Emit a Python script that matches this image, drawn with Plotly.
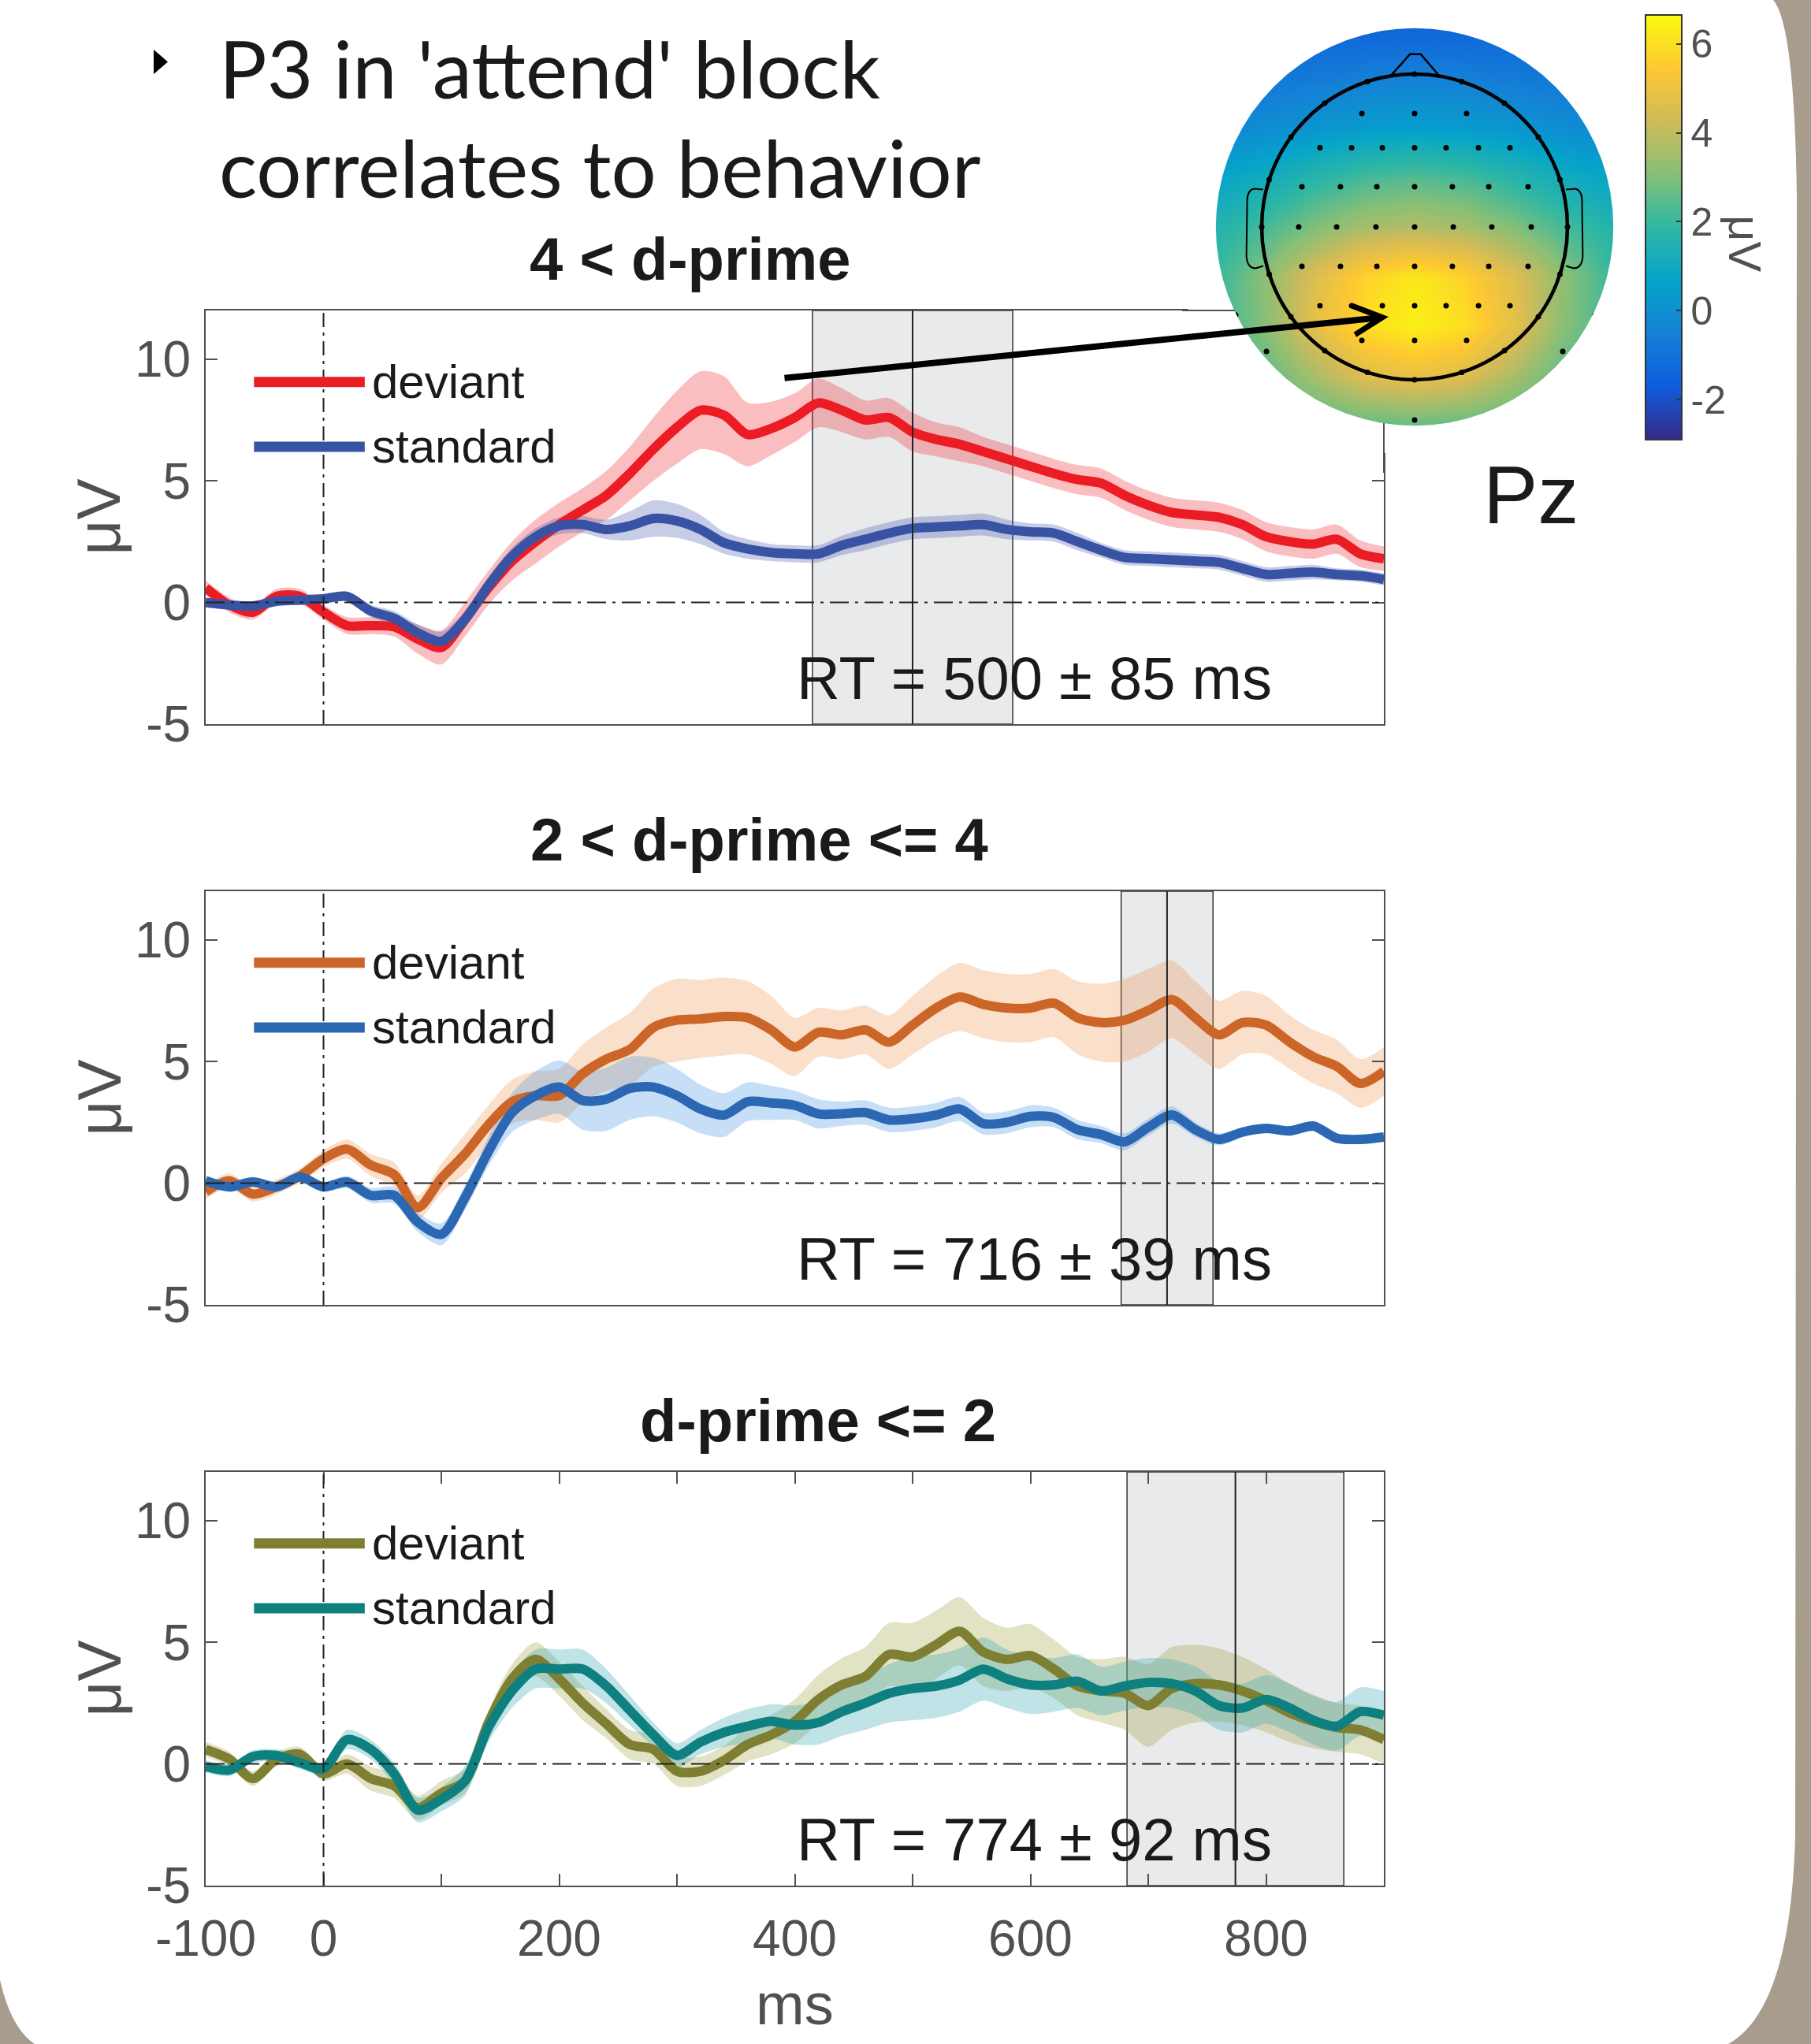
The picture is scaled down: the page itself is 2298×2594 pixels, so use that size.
import plotly.graph_objects as go
import math

W, H = 2298, 2594

# ---------------- data ----------------
time_ms = list(range(-100, 901, 20))

p1_deviant = [0.6, -0.1, -0.4, 0.25, 0.25, -0.4, -0.95, -0.95, -1.0, -1.5, -1.85, -0.7, 0.6, 1.7, 2.5, 3.2, 3.8, 4.4, 5.3, 6.3,
              7.2, 7.9, 7.7, 6.9, 7.15, 7.6, 8.2, 7.9, 7.5, 7.6, 7.0, 6.7, 6.5, 6.2, 5.9, 5.6, 5.3, 5.05, 4.9, 4.4,
              4.0, 3.7, 3.6, 3.5, 3.2, 2.7, 2.5, 2.4, 2.6, 2.0, 1.8]
p1_standard = [0.0, -0.1, -0.15, 0.05, 0.1, 0.15, 0.25, -0.35, -0.65, -1.25, -1.6, -0.7, 0.7, 1.9, 2.7, 3.15, 3.2, 3.0, 3.15, 3.45,
               3.35, 3.0, 2.45, 2.2, 2.05, 2.0, 2.0, 2.35, 2.6, 2.85, 3.05, 3.1, 3.15, 3.2, 3.0, 2.9, 2.85, 2.5, 2.15, 1.85,
               1.8, 1.75, 1.7, 1.65, 1.4, 1.15, 1.2, 1.25, 1.15, 1.1, 0.95]
p1_deviant_sem = [0.3, 0.3, 0.3, 0.3, 0.3, 0.3, 0.35, 0.35, 0.4, 0.6, 0.7, 0.7, 0.7, 0.8, 0.9, 0.9, 0.9, 1.0, 1.1, 1.3,
                  1.5, 1.6, 1.6, 1.3, 1.1, 1.0, 1.0, 0.9, 0.8, 0.8, 0.8, 0.7, 0.7, 0.6, 0.6, 0.6, 0.6, 0.6, 0.6, 0.6,
                  0.6, 0.6, 0.6, 0.6, 0.6, 0.6, 0.6, 0.6, 0.6, 0.55, 0.5]
p1_standard_sem = [0.2, 0.2, 0.2, 0.2, 0.2, 0.2, 0.2, 0.25, 0.3, 0.35, 0.4, 0.35, 0.35, 0.35, 0.35, 0.35, 0.35, 0.4, 0.6, 0.75,
                   0.7, 0.6, 0.45, 0.4, 0.35, 0.35, 0.35, 0.4, 0.45, 0.45, 0.45, 0.45, 0.45, 0.45, 0.4, 0.35, 0.35, 0.35, 0.3, 0.3,
                   0.3, 0.3, 0.3, 0.3, 0.3, 0.3, 0.3, 0.3, 0.25, 0.25, 0.25]

p2_deviant = [-0.35, 0.1, -0.45, -0.15, 0.3, 1.0, 1.4, 0.75, 0.35, -1.0, 0.2, 1.2, 2.4, 3.35, 3.6, 3.6, 4.5, 5.1, 5.5, 6.4,
              6.7, 6.75, 6.85, 6.8, 6.3, 5.6, 6.2, 6.1, 6.3, 5.8, 6.5, 7.2, 7.65, 7.35, 7.2, 7.2, 7.4, 6.8, 6.6, 6.7,
              7.1, 7.55, 6.8, 6.1, 6.6, 6.5, 5.8, 5.2, 4.8, 4.1, 4.6]
p2_standard = [0.1, -0.15, 0.05, -0.15, 0.25, -0.15, 0.05, -0.5, -0.5, -1.6, -2.1, -0.6, 1.3, 2.9, 3.6, 3.95, 3.4, 3.45, 3.9, 3.95,
               3.6, 3.05, 2.8, 3.35, 3.3, 3.2, 2.85, 2.85, 2.9, 2.6, 2.65, 2.8, 3.05, 2.45, 2.5, 2.75, 2.7, 2.2, 2.0, 1.7,
               2.3, 2.8, 2.2, 1.8, 2.1, 2.25, 2.15, 2.35, 1.85, 1.8, 1.9]
p2_deviant_sem = [0.3, 0.3, 0.3, 0.3, 0.3, 0.35, 0.4, 0.45, 0.5, 0.5, 0.6, 0.8, 0.8, 0.9, 1.0, 1.1, 1.2, 1.3, 1.5, 1.6,
                  1.7, 1.6, 1.6, 1.5, 1.4, 1.2, 1.0, 1.0, 1.0, 1.1, 1.2, 1.3, 1.4, 1.4, 1.4, 1.4, 1.4, 1.5, 1.6, 1.7,
                  1.7, 1.6, 1.5, 1.4, 1.3, 1.2, 1.1, 1.1, 1.1, 1.0, 1.0]
p2_standard_sem = [0.2, 0.2, 0.2, 0.2, 0.2, 0.2, 0.25, 0.3, 0.35, 0.4, 0.45, 0.5, 0.6, 0.8, 1.0, 1.1, 1.2, 1.3, 1.3, 1.2,
                   1.1, 1.0, 0.9, 0.8, 0.7, 0.6, 0.6, 0.5, 0.5, 0.5, 0.5, 0.5, 0.5, 0.45, 0.45, 0.45, 0.4, 0.4, 0.35, 0.35,
                   0.35, 0.35, 0.3, 0.25, 0.2, 0.2, 0.2, 0.2, 0.2, 0.2, 0.2]

p3_deviant = [0.6, 0.2, -0.6, 0.2, 0.4, -0.4, 0.0, -0.6, -0.9, -1.8, -1.2, -0.7, 1.7, 3.5, 4.3, 3.5, 2.5, 1.65, 0.8, 0.6,
              -0.3, -0.3, 0.15, 0.8, 1.2, 1.75, 2.65, 3.25, 3.6, 4.5, 4.4, 4.9, 5.45, 4.6, 4.3, 4.45, 3.9, 3.2, 3.0, 2.9,
              2.4, 3.1, 3.3, 3.25, 3.0, 2.6, 2.1, 1.75, 1.5, 1.4, 1.0]
p3_standard = [-0.1, -0.25, 0.3, 0.35, 0.05, -0.2, 1.0, 0.6, -0.4, -1.9, -1.45, -0.7, 1.5, 3.0, 3.9, 3.9, 3.9, 3.2, 2.2, 1.2,
               0.35, 0.9, 1.3, 1.55, 1.75, 1.6, 1.7, 2.15, 2.5, 2.9, 3.1, 3.2, 3.45, 3.9, 3.5, 3.25, 3.25, 3.4, 3.0, 3.2,
               3.35, 3.3, 3.0, 2.4, 2.3, 2.65, 2.3, 1.8, 1.55, 2.15, 2.0]
p3_deviant_sem = [0.3, 0.3, 0.3, 0.3, 0.3, 0.3, 0.4, 0.5, 0.5, 0.5, 0.5, 0.5, 0.5, 0.6, 0.7, 0.7, 0.7, 0.6, 0.6, 0.6,
                  0.6, 0.6, 0.6, 0.7, 0.8, 0.9, 1.0, 1.1, 1.2, 1.3, 1.4, 1.4, 1.4, 1.4, 1.3, 1.3, 1.2, 1.2, 1.3, 1.5,
                  1.7, 1.7, 1.6, 1.5, 1.4, 1.3, 1.2, 1.1, 1.0, 1.0, 1.0]
p3_standard_sem = [0.25, 0.25, 0.25, 0.25, 0.25, 0.25, 0.4, 0.4, 0.45, 0.5, 0.5, 0.6, 0.6, 0.7, 0.8, 0.8, 0.8, 0.7, 0.6, 0.5,
                   0.5, 0.5, 0.6, 0.7, 0.7, 0.8, 0.9, 1.0, 1.1, 1.2, 1.3, 1.3, 1.3, 1.3, 1.2, 1.2, 1.1, 1.1, 1.0, 1.0,
                   1.0, 1.0, 1.0, 1.0, 1.0, 1.0, 1.0, 1.0, 1.0, 1.0, 1.0]

panel_titles = ["4 &lt; d-prime", "2 &lt; d-prime &lt;= 4", "d-prime &lt;= 2"]
rt_mean_ms = [500, 716, 774]
rt_sd_ms = [85, 39, 92]
legend_labels = ["deviant", "standard"]

y_tick_vals = [-5, 0, 5, 10]
y_tick_text = ["-5", "0", "5", "10"]
x_tick_vals = [-100, 0, 100, 200, 300, 400, 500, 600, 700, 800]
x_tick_text = ["-100", "0", "", "200", "", "400", "", "600", "", "800"]

# topography (Pz P3 window), coarse grid in head units, rows bottom -> top
topo_x = [-1.3, -0.975, -0.65, -0.325, 0.0, 0.325, 0.65, 0.975, 1.3]
topo_y = [-1.3, -0.975, -0.65, -0.325, 0.0, 0.325, 0.65, 0.975, 1.3]
topo_z = [
    [2.0, 2.1, 2.3, 2.5, 2.6, 2.5, 2.3, 2.1, 2.0],
    [2.0, 2.5, 3.6, 4.6, 4.9, 4.6, 3.6, 2.5, 2.0],
    [2.1, 3.1, 4.8, 6.0, 6.4, 6.0, 4.8, 3.1, 2.1],
    [2.0, 3.2, 4.6, 5.7, 6.2, 5.7, 4.6, 3.2, 2.0],
    [1.6, 2.2, 3.0, 3.6, 3.8, 3.6, 3.0, 2.2, 1.6],
    [0.7, 1.1, 1.7, 2.2, 2.4, 2.2, 1.7, 1.1, 0.7],
    [-0.3, -0.1, 0.2, 0.4, 0.5, 0.4, 0.2, -0.1, -0.3],
    [-1.0, -0.85, -0.7, -0.55, -0.5, -0.55, -0.7, -0.85, -1.0],
    [-1.4, -1.4, -1.4, -1.4, -1.4, -1.4, -1.4, -1.4, -1.4],
]
colorbar_ticks = [-2, 0, 2, 4, 6]
colorbar_text = ["-2", "0", "2", "4", "6"]
topo_cmin, topo_cmax = -2.9, 6.65

elec_x = [-0.345, 0.0, 0.34,
          -0.619, -0.412, -0.211, 0.0, 0.206, 0.418, 0.624,
          -0.737, -0.485, -0.247, 0.0, 0.247, 0.485, 0.742,
          -0.758, -0.51, -0.253, 0.0, 0.253, 0.505, 0.763,
          -0.737, -0.485, -0.247, 0.0, 0.247, 0.485, 0.742,
          -0.619, -0.412, -0.211, 0.0, 0.206, 0.418, 0.624,
          -0.345, 0.0, 0.34,
          -1.17, 1.18, -0.969, 0.969, 0.0]
elec_y = [0.742, 0.742, 0.742,
          0.518, 0.518, 0.518, 0.518, 0.518, 0.518, 0.518,
          0.263, 0.263, 0.263, 0.263, 0.263, 0.263, 0.263,
          0.0, 0.0, 0.0, 0.0, 0.0, 0.0, 0.0,
          -0.258, -0.258, -0.258, -0.258, -0.258, -0.258, -0.258,
          -0.515, -0.515, -0.515, -0.515, -0.515, -0.515, -0.515,
          -0.742, -0.742, -0.742,
          -0.577, -0.577, -0.814, -0.814, -1.263]
rim_angles_deg = [0, 18, 36, 54, 72, 90, 108, 126, 144, 162, 180, 198, 216, 234, 252, 270, 288, 306, 324, 342]

for arr in [p1_deviant, p1_standard, p1_deviant_sem, p1_standard_sem,
            p2_deviant, p2_standard, p2_deviant_sem, p2_standard_sem,
            p3_deviant, p3_standard, p3_deviant_sem, p3_standard_sem]:
    assert len(arr) == len(time_ms), len(arr)

# ---------------- styling ----------------
def PX(x):
    return x / W

def PY(y):
    return 1 - y / H

FONT = "Liberation Sans, Arial, Helvetica, sans-serif"
AXC = "#505050"
X_LEFT, X_RIGHT = 261, 1756
PANEL_TOP = [394, 1131, 1868]
PANEL_BOT = [919, 1656, 2393]
TITLE_X = [876, 963, 1038]

panel_data = [
    (p1_deviant, p1_deviant_sem, p1_standard, p1_standard_sem),
    (p2_deviant, p2_deviant_sem, p2_standard, p2_standard_sem),
    (p3_deviant, p3_deviant_sem, p3_standard, p3_standard_sem),
]
line_colors = [("#ec1c24", "#3953a4"), ("#cc6628", "#2b67b3"), ("#7f7f33", "#0f8080")]
band_colors = [("rgba(238,40,50,0.30)", "rgba(70,85,175,0.30)"),
               ("rgba(240,150,80,0.30)", "rgba(70,150,225,0.30)"),
               ("rgba(160,160,60,0.30)", "rgba(60,170,180,0.33)")]

fig = go.Figure()
layout = dict(width=W, height=H, margin=dict(l=0, r=0, t=0, b=0, pad=0, autoexpand=False),
              paper_bgcolor="white", plot_bgcolor="rgba(0,0,0,0)", showlegend=False)
shapes = []
annotations = []

def path_px(cmds):
    out = []
    for c in cmds:
        if isinstance(c, str):
            out.append(c)
        else:
            out.append("%.5f,%.5f" % (PX(c[0]), PY(c[1])))
    return " ".join(out)

# background taupe frame
shapes.append(dict(type="path", xref="paper", yref="paper", layer="below", line=dict(width=0),
                   fillcolor="#a89c8d",
                   path=path_px(["M", (2250, 0), "Q", (2277, 30), (2280, 250), "L", (2278, 2330),
                                 "Q", (2272, 2550), (2193, 2594), "L", (2298, 2594), "L", (2298, 0), "Z"])))
shapes.append(dict(type="path", xref="paper", yref="paper", layer="below", line=dict(width=0),
                   fillcolor="#a89c8d",
                   path=path_px(["M", (0, 2513), "Q", (14, 2574), (44, 2594), "L", (0, 2594), "Z"])))

for i in range(3):
    n = "" if i == 0 else str(i + 1)
    xr, yr = "x" + n, "y" + n
    dev, dev_sem, std, std_sem = panel_data[i]
    cdev, cstd = line_colors[i]
    bdev, bstd = band_colors[i]

    xa = dict(domain=[PX(X_LEFT), PX(X_RIGHT)], range=[-100, 900], anchor=yr, showline=True,
              linecolor=AXC, linewidth=2, showgrid=False, zeroline=False, fixedrange=True, automargin=False)
    if i == 2:
        xa.update(ticks="inside", ticklen=15, tickwidth=2, tickcolor=AXC, mirror="ticks",
                  tickmode="array", tickvals=x_tick_vals, ticktext=x_tick_text,
                  tickfont=dict(family=FONT, size=64, color=AXC), ticklabelstandoff=10)
    else:
        xa.update(showticklabels=False, ticks="", mirror=True)
    ya = dict(domain=[PY(PANEL_BOT[i]), PY(PANEL_TOP[i])], range=[-5, 12], anchor=xr, showline=True,
              linecolor=AXC, linewidth=2, mirror="ticks", ticks="inside", ticklen=15, tickwidth=2,
              tickcolor=AXC, tickmode="array", tickvals=y_tick_vals, ticktext=y_tick_text,
              tickfont=dict(family=FONT, size=64, color=AXC), showgrid=False, zeroline=False,
              fixedrange=True, ticklabelstandoff=4, automargin=False)
    layout["xaxis" + n] = xa
    layout["yaxis" + n] = ya

    # error bands
    for mean, sem, bc in [(dev, dev_sem, bdev), (std, std_sem, bstd)]:
        lower = [m - s for m, s in zip(mean, sem)]
        upper = [m + s for m, s in zip(mean, sem)]
        fig.add_trace(go.Scatter(x=time_ms, y=lower, xaxis=xr, yaxis=yr, mode="lines",
                                 line=dict(width=0, shape="spline", smoothing=0.8),
                                 hoverinfo="skip", showlegend=False))
        fig.add_trace(go.Scatter(x=time_ms, y=upper, xaxis=xr, yaxis=yr, mode="lines", fill="tonexty",
                                 fillcolor=bc, line=dict(width=0, shape="spline", smoothing=0.8),
                                 hoverinfo="skip", showlegend=False))
    for mean, c in [(dev, cdev), (std, cstd)]:
        fig.add_trace(go.Scatter(x=time_ms, y=mean, xaxis=xr, yaxis=yr, mode="lines",
                                 line=dict(width=12, color=c, shape="spline", smoothing=0.8),
                                 hoverinfo="skip", showlegend=False))

    # RT window
    rt, sd = rt_mean_ms[i], rt_sd_ms[i]
    shapes.append(dict(type="rect", xref=xr, yref=yr + " domain", x0=rt - sd, x1=rt + sd, y0=0, y1=1,
                       layer="below", fillcolor="#e9eaeb", line=dict(color="#333333", width=1.5)))
    shapes.append(dict(type="line", xref=xr, yref=yr + " domain", x0=rt, x1=rt, y0=0, y1=1,
                       layer="above", line=dict(color="#222222", width=2)))
    # zero lines
    shapes.append(dict(type="line", xref=xr, yref=yr, x0=-100, x1=900, y0=0, y1=0, layer="above",
                       line=dict(color="#222222", width=2, dash="24px,8px,4px,8px")))
    shapes.append(dict(type="line", xref=xr, yref=yr + " domain", x0=0, x1=0, y0=0, y1=1, layer="above",
                       line=dict(color="#222222", width=2, dash="18px,7px,4px,7px")))
    # legend
    for k, (lab, c) in enumerate(zip(legend_labels, (cdev, cstd))):
        yv = 9.06 if k == 0 else 6.40
        shapes.append(dict(type="line", xref=xr, yref=yr, x0=-59, x1=35, y0=yv, y1=yv, layer="above",
                           line=dict(color=c, width=13)))
        annotations.append(dict(xref=xr, yref=yr, x=40, y=yv, text=lab, showarrow=False, xanchor="left",
                                yanchor="middle", font=dict(family=FONT, size=60, color="#1a1a1a")))
    # RT text
    annotations.append(dict(xref=xr, yref=yr, x=400, y=-3.1, xanchor="left", yanchor="middle", showarrow=False,
                            text="RT = %d \u00b1 %d ms" % (rt, sd), font=dict(family=FONT, size=76, color="#1a1a1a")))
    # panel title
    annotations.append(dict(xref="paper", yref="paper", x=PX(TITLE_X[i]), y=PY(PANEL_TOP[i] - 66),
                            xanchor="center", yanchor="middle", showarrow=False, text="<b>%s</b>" % panel_titles[i],
                            font=dict(family=FONT, size=76, color="#1a1a1a")))
    # y axis title
    annotations.append(dict(xref="paper", yref="paper", x=PX(125), y=PY((PANEL_TOP[i] + PANEL_BOT[i]) / 2),
                            xanchor="center", yanchor="middle", showarrow=False, text="\u03bcV", textangle=-90,
                            font=dict(family=FONT, size=78, color=AXC)))

# x axis title
annotations.append(dict(xref="paper", yref="paper", x=PX(1008), y=PY(2543), xanchor="center", yanchor="middle",
                        showarrow=False, text="ms", font=dict(family=FONT, size=74, color=AXC)))

# ---------------- topography ----------------
TC_X, TC_Y, TR = 1795, 288, 194
RNG = 1.48
half = RNG * TR
layout["xaxis4"] = dict(domain=[PX(TC_X - half), PX(TC_X + half)], range=[-RNG, RNG], anchor="y4",
                        visible=False, fixedrange=True, automargin=False)
layout["yaxis4"] = dict(domain=[max(0, PY(TC_Y + half)), min(1, PY(TC_Y - half))], range=[-RNG, RNG], anchor="x4",
                        visible=False, fixedrange=True, automargin=False)

parula = [[0.0, "#352a87"], [0.125, "#0f5cdd"], [0.25, "#1481d6"], [0.375, "#06a4ca"], [0.5, "#2eb7a4"],
          [0.625, "#87bf77"], [0.75, "#d1bb59"], [0.875, "#fec832"], [1.0, "#f9fb0e"]]

fig.add_trace(go.Heatmap(x=topo_x, y=topo_y, z=topo_z, xaxis="x4", yaxis="y4", zsmooth="best",
                         colorscale=parula, zmin=topo_cmin, zmax=topo_cmax, hoverinfo="skip",
                         colorbar=dict(x=PX(2088), xanchor="left", y=PY(288.5), yanchor="middle",
                                       len=539, lenmode="pixels", thickness=46, thicknessmode="pixels",
                                       xpad=0, ypad=0, outlinewidth=2, outlinecolor="#333333",
                                       tickmode="array", tickvals=colorbar_ticks, ticktext=colorbar_text,
                                       ticks="inside", ticklen=8, tickwidth=2, tickcolor="#333333",
                                       tickfont=dict(family=FONT, size=50, color=AXC))))
fig.add_trace(go.Scatter(x=elec_x, y=elec_y, xaxis="x4", yaxis="y4", mode="markers",
                         marker=dict(size=7, color="black"), hoverinfo="skip", showlegend=False))
fig.add_trace(go.Scatter(x=[math.cos(math.radians(a)) for a in rim_angles_deg],
                         y=[math.sin(math.radians(a)) for a in rim_angles_deg],
                         xaxis="x4", yaxis="y4", mode="markers",
                         marker=dict(size=7, color="black"), hoverinfo="skip", showlegend=False))

# white mask outside the scalp disc
circ = []
for k in range(0, 73):
    a = math.radians(k * 5)
    circ.append("%s %.4f,%.4f" % ("M" if k == 0 else "L", 1.3 * math.cos(a), 1.3 * math.sin(a)))
mask_path = "M -1.7,-1.7 L -1.7,1.7 L 1.7,1.7 L 1.7,-1.7 Z " + " ".join(circ) + " Z"
shapes.append(dict(type="path", xref="x4", yref="y4", layer="above", path=mask_path,
                   fillcolor="white", line=dict(width=0)))
# restore the pieces of the panel-1 frame covered by the mask square
shapes.append(dict(type="line", xref="paper", yref="paper", layer="above",
                   x0=PX(1500), x1=PX(1567), y0=PY(394), y1=PY(394), line=dict(color=AXC, width=2)))
shapes.append(dict(type="line", xref="paper", yref="paper", layer="above",
                   x0=PX(1756), x1=PX(1756), y0=PY(537), y1=PY(600), line=dict(color=AXC, width=2)))
shapes.append(dict(type="circle", xref="x4", yref="y4", x0=-1, x1=1, y0=-1, y1=1, layer="above",
                   line=dict(color="black", width=4.5)))
shapes.append(dict(type="path", xref="x4", yref="y4", layer="above", line=dict(color="black", width=2.5),
                   path="M -0.155,0.99 L -0.03,1.13 L 0.04,1.13 L 0.16,0.99"))
shapes.append(dict(type="path", xref="x4", yref="y4", layer="above", line=dict(color="black", width=2),
                   path="M -0.99,0.245 L -1.05,0.25 Q -1.095,0.24 -1.095,0.17 L -1.1,-0.19 Q -1.095,-0.27 -1.04,-0.27 L -0.99,-0.255"))
shapes.append(dict(type="path", xref="x4", yref="y4", layer="above", line=dict(color="black", width=2),
                   path="M 0.99,0.245 L 1.05,0.25 Q 1.095,0.24 1.095,0.17 L 1.1,-0.19 Q 1.095,-0.27 1.04,-0.27 L 0.99,-0.255"))

annotations.append(dict(xref="paper", yref="paper", x=PX(2215), y=PY(309), xanchor="center", yanchor="middle",
                        showarrow=False, text="\u03bcV", textangle=90, font=dict(family=FONT, size=58, color=AXC)))
annotations.append(dict(xref="paper", yref="paper", x=PX(1942), y=PY(628), xanchor="center", yanchor="middle",
                        showarrow=False, text="Pz", font=dict(family=FONT, size=104, color="#1a1a1a")))
# arrow from P3 peak to the topography
annotations.append(dict(xref="paper", yref="paper", x=PX(1762), y=PY(402), axref="pixel", ayref="pixel",
                        ax=-768, ay=78, text="", showarrow=True, arrowhead=5, arrowsize=0.9, arrowwidth=8,
                        arrowcolor="black", standoff=0, startstandoff=0))

# main heading
annotations.append(dict(xref="paper", yref="paper", x=PX(276), y=PY(86), xanchor="left", yanchor="middle",
                        showarrow=False, text="P3 in 'attend' block", font=dict(family="Lato", size=101, color="#1a1a1a")))
annotations.append(dict(xref="paper", yref="paper", x=PX(276), y=PY(212), xanchor="left", yanchor="middle",
                        showarrow=False, text="correlates to behavior", font=dict(family="Lato", size=101, color="#1a1a1a")))
shapes.append(dict(type="path", xref="paper", yref="paper", layer="above", fillcolor="black", line=dict(width=0),
                   path=path_px(["M", (195, 63), "L", (195, 94), "L", (213, 78.5), "Z"])))

layout["shapes"] = shapes
layout["annotations"] = annotations
fig.update_layout(**layout)

fig.write_html("out.html", include_plotlyjs=True, config={"displayModeBar": False},
               post_script="document.body.style.margin='0';document.body.style.overflow='hidden';")
